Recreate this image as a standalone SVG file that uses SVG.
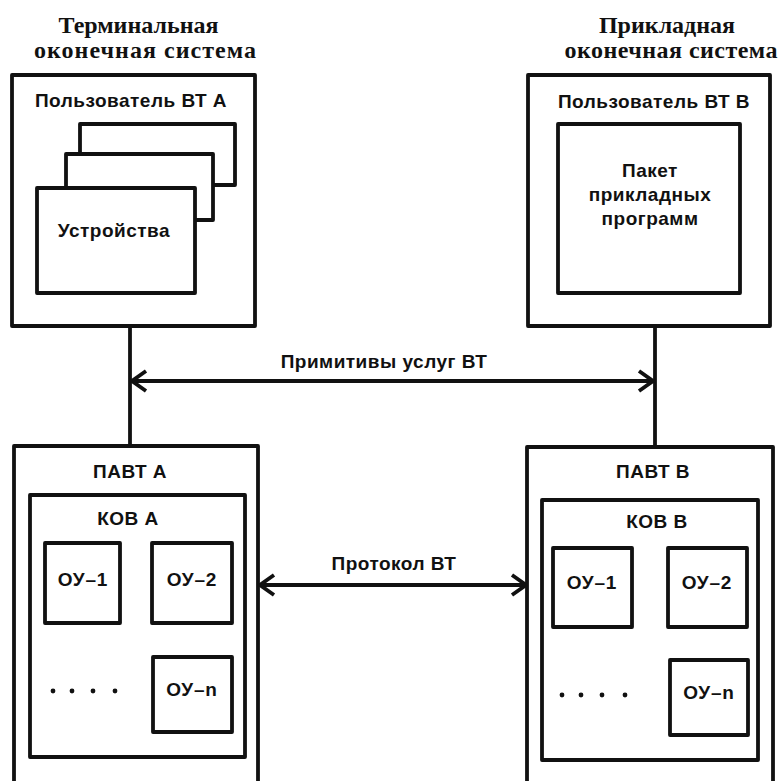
<svg xmlns="http://www.w3.org/2000/svg" width="781" height="781" viewBox="0 0 781 781">
<defs>
<style>
.box{fill:#fff;stroke:#111;stroke-width:3.8;stroke-linejoin:round}
.ln{fill:none;stroke:#111;stroke-width:3.8}
.t{font-family:"Liberation Sans",Arial,sans-serif;font-weight:bold;font-size:19px;fill:#111;text-anchor:middle;letter-spacing:0.5px}
.s{font-size:19px;letter-spacing:0.8px}
.h{font-family:"Liberation Serif","Times New Roman",serif;font-weight:bold;font-size:24px;fill:#111;text-anchor:middle}
.dot{fill:#111}
</style>
<marker id="arr" viewBox="0 0 20 24" refX="18" refY="12" markerWidth="20" markerHeight="24" markerUnits="userSpaceOnUse" orient="auto-start-reverse">
<path d="M4 2 L18 12 L4 22" fill="none" stroke="#111" stroke-width="3.8"/>
</marker>
</defs>

<g id="title-a">
<text class="h" x="138.5" y="33">Терминальная</text>
<text class="h" x="145" y="58" textLength="222" lengthAdjust="spacing">оконечная система</text>
</g>
<g id="title-b">
<text class="h" x="667" y="33">Прикладная</text>
<text class="h" x="671" y="58" textLength="213" lengthAdjust="spacing">оконечная система</text>
</g>

<g id="connectors">
<line class="ln" x1="130" y1="326" x2="130" y2="446"/>
<line class="ln" x1="655" y1="326" x2="655" y2="447"/>
<line class="ln" x1="132" y1="381" x2="653" y2="381" marker-start="url(#arr)" marker-end="url(#arr)"/>
<line class="ln" x1="260" y1="585" x2="526" y2="585" marker-start="url(#arr)" marker-end="url(#arr)"/>
<text class="t" x="384" y="368">Примитивы услуг ВТ</text>
<text class="t" x="394" y="570">Протокол ВТ</text>
</g>

<g id="user-a">
<rect class="box" x="12" y="75" width="243" height="251"/>
<text class="t" x="131" y="107">Пользователь ВТ А</text>
</g>
<g id="devices">
<rect class="box" x="80" y="124" width="155" height="61"/>
<rect class="box" x="66" y="154" width="147" height="66"/>
<rect class="box" x="37" y="188" width="158" height="105"/>
<text class="t" x="114" y="237">Устройства</text>
</g>

<g id="user-b">
<rect class="box" x="528" y="75" width="242" height="251"/>
<text class="t" x="654" y="108">Пользователь ВТ В</text>
</g>
<g id="app-pkg">
<rect class="box" x="558" y="124" width="182" height="169"/>
<text class="t" x="650" y="177">Пакет</text>
<text class="t" x="650" y="201">прикладных</text>
<text class="t" x="650" y="225">программ</text>
</g>

<g id="pavt-a">
<rect class="box" x="14" y="446" width="244" height="345"/>
<text class="t" x="130" y="478">ПАВТ А</text>
</g>
<g id="kov-a">
<rect class="box" x="30" y="495" width="215" height="262"/>
<text class="t" x="128" y="525">КОВ А</text>
</g>
<g id="ou1-a">
<rect class="box" x="45" y="543" width="75" height="80"/>
<text class="t s" x="83" y="586">ОУ–1</text>
</g>
<g id="ou2-a">
<rect class="box" x="152" y="543" width="80" height="80"/>
<text class="t s" x="192" y="586">ОУ–2</text>
</g>
<g id="oun-a">
<rect class="box" x="153" y="657" width="79" height="75"/>
<text class="t s" x="192" y="696">ОУ–n</text>
</g>
<g id="dots-a">
<circle class="dot" cx="53" cy="691" r="2.4"/>
<circle class="dot" cx="72" cy="691" r="2.4"/>
<circle class="dot" cx="93" cy="691" r="2.4"/>
<circle class="dot" cx="115" cy="691" r="2.4"/>
</g>

<g id="pavt-b">
<rect class="box" x="527" y="447" width="246" height="344"/>
<text class="t" x="653" y="478">ПАВТ В</text>
</g>
<g id="kov-b">
<rect class="box" x="542" y="500" width="216" height="260"/>
<text class="t" x="657" y="528">КОВ В</text>
</g>
<g id="ou1-b">
<rect class="box" x="553" y="548" width="79" height="79"/>
<text class="t s" x="592" y="589">ОУ–1</text>
</g>
<g id="ou2-b">
<rect class="box" x="668" y="548" width="79" height="79"/>
<text class="t s" x="707" y="589">ОУ–2</text>
</g>
<g id="oun-b">
<rect class="box" x="670" y="660" width="78" height="75"/>
<text class="t s" x="709" y="699">ОУ–n</text>
</g>
<g id="dots-b">
<circle class="dot" cx="562" cy="695" r="2.4"/>
<circle class="dot" cx="581" cy="695" r="2.4"/>
<circle class="dot" cx="602" cy="695" r="2.4"/>
<circle class="dot" cx="625" cy="695" r="2.4"/>
</g>
</svg>
